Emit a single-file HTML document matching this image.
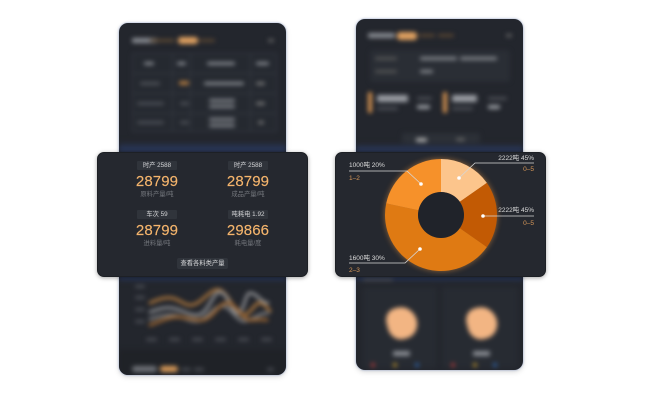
<!DOCTYPE html>
<html><head><meta charset="utf-8">
<style>
*{margin:0;padding:0;box-sizing:border-box}
html,body{width:650px;height:403px;background:#fff;overflow:hidden;position:relative;font-family:"Liberation Sans","Noto Sans CJK SC",sans-serif}
.phone{position:absolute;background:#23262d;border-radius:9px;overflow:hidden;box-shadow:0 0 2px rgba(70,100,170,.55),0 2px 6px rgba(0,0,0,.15)}
.blur{position:absolute;left:0;top:0;width:100%;height:100%;filter:blur(2.4px)}
.b{position:absolute;border-radius:1.5px}
.card{position:absolute;background:#25282f;border-radius:7px;box-shadow:0 1px 4px rgba(0,0,0,.35);border:1px solid #1d2025}
.tag{position:absolute;width:40px;height:9px;background:#30343b;border-radius:1px;color:#d5d6d8;font-size:6.3px;line-height:9px;text-align:center;white-space:nowrap}
.num{position:absolute;width:60px;text-align:center;color:#f4b46c;font-size:15px;line-height:15px;letter-spacing:.1px;-webkit-text-stroke:.15px #f4b46c}
.sub{position:absolute;width:60px;text-align:center;color:#74777d;font-size:6.3px;line-height:8px;white-space:nowrap}
</style></head><body>

<!-- LEFT PHONE -->
<div class="phone" style="left:119px;top:23px;width:167px;height:352px">
 <div class="blur">
  <div class="b" style="left:13px;top:15px;width:25px;height:5px;background:#8a8d93"></div>
  <div class="b" style="left:31px;top:16px;width:25px;height:3px;background:#5e4a33"></div>
  <div class="b" style="left:59px;top:14px;width:20px;height:7px;background:#e0a160;border-radius:3px"></div>
  <div class="b" style="left:80px;top:16px;width:16px;height:3px;background:#5a4632"></div>
  <div class="b" style="left:149px;top:16px;width:6px;height:3px;background:#666"></div>
  <!-- table -->
  <div class="b" style="left:13px;top:30px;width:145px;height:79px;border:1px solid #353942;background:#252930"></div>
  <div class="b" style="left:13px;top:50px;width:145px;height:1px;background:#353942"></div>
  <div class="b" style="left:13px;top:70px;width:145px;height:1px;background:#353942"></div>
  <div class="b" style="left:13px;top:90px;width:145px;height:1px;background:#353942"></div>
  <div class="b" style="left:53px;top:30px;width:1px;height:79px;background:#353942"></div>
  <div class="b" style="left:71px;top:30px;width:1px;height:79px;background:#353942"></div>
  <div class="b" style="left:131px;top:30px;width:1px;height:79px;background:#353942"></div>
  <div class="b" style="left:25px;top:39px;width:10px;height:3px;background:#8b8e94"></div>
  <div class="b" style="left:58px;top:39px;width:9px;height:3px;background:#8b8e94"></div>
  <div class="b" style="left:88px;top:39px;width:28px;height:3px;background:#8b8e94"></div>
  <div class="b" style="left:137px;top:39px;width:13px;height:3px;background:#8b8e94"></div>
  <div class="b" style="left:21px;top:59px;width:20px;height:3px;background:#50535a"></div>
  <div class="b" style="left:60px;top:58px;width:10px;height:4px;background:#b07a40"></div>
  <div class="b" style="left:85px;top:59px;width:40px;height:3px;background:#8a8d93"></div>
  <div class="b" style="left:137px;top:59px;width:9px;height:3px;background:#777"></div>
  <div class="b" style="left:18px;top:79px;width:27px;height:3px;background:#4d5057"></div>
  <div class="b" style="left:61px;top:79px;width:9px;height:3px;background:#4d5057"></div>
  <div class="b" style="left:90px;top:76px;width:26px;height:3px;background:#85888e"></div>
  <div class="b" style="left:90px;top:82px;width:26px;height:3px;background:#85888e"></div>
  <div class="b" style="left:137px;top:79px;width:9px;height:3px;background:#777"></div>
  <div class="b" style="left:18px;top:98px;width:27px;height:3px;background:#4d5057"></div>
  <div class="b" style="left:61px;top:98px;width:9px;height:3px;background:#4d5057"></div>
  <div class="b" style="left:90px;top:95px;width:26px;height:3px;background:#85888e"></div>
  <div class="b" style="left:90px;top:101px;width:26px;height:3px;background:#85888e"></div>
  <div class="b" style="left:139px;top:98px;width:6px;height:3px;background:#777"></div>
  <div class="b" style="left:39px;top:119px;width:13px;height:3px;background:#666"></div>
  <div class="b" style="left:109px;top:119px;width:19px;height:3px;background:#666"></div>
  <div class="b" style="left:0;top:118px;width:167px;height:11px;background:linear-gradient(#23262d,#2a3b66);border-radius:0"></div>
  <div class="b" style="left:0;top:253px;width:167px;height:6px;background:linear-gradient(#2c3f70,#23262d);border-radius:0"></div>
  <!-- chart -->
  <div class="b" style="left:16px;top:262px;width:10px;height:3px;background:#4a4d54"></div>
  <div class="b" style="left:16px;top:273px;width:10px;height:3px;background:#4a4d54"></div>
  <div class="b" style="left:16px;top:285px;width:10px;height:3px;background:#4a4d54"></div>
  <div class="b" style="left:16px;top:297px;width:10px;height:3px;background:#4a4d54"></div>
  <svg style="position:absolute;left:0;top:0" width="167" height="352">
   <g fill="none" stroke-width="3" stroke-linecap="round">
    <path d="M31,280 C40,276 46,274 53,275 C62,277 66,283 73,282 C84,280 92,264 101,267 C110,271 116,292 124,292 C132,292 136,278 142,280 C147,282 149,286 151,288" stroke="#a8743c"/>
    <path d="M31,289 C40,286 46,284 53,285 C64,287 70,293 79,292 C90,290 94,268 101,269 C110,271 112,290 119,290 C125,290 126,270 131,270 C138,270 142,280 149,280" stroke="#8a8b8e"/>
    <path d="M31,296 C40,293 46,292 53,292 C64,293 70,299 79,298 C88,296 96,282 104,283 C112,284 118,299 126,298 C134,297 140,290 149,290" stroke="#7a7b7e"/>
    <path d="M31,302 C42,298 50,294 58,294 C68,294 76,298 84,297 C94,295 100,280 108,280 C118,281 124,297 131,297 C138,297 142,296 148,297" stroke="#9c6530"/>
   </g>
  </svg>
  <div class="b" style="left:27px;top:315px;width:11px;height:3px;background:#4a4d54"></div>
  <div class="b" style="left:50px;top:315px;width:11px;height:3px;background:#4a4d54"></div>
  <div class="b" style="left:73px;top:315px;width:11px;height:3px;background:#4a4d54"></div>
  <div class="b" style="left:96px;top:315px;width:11px;height:3px;background:#4a4d54"></div>
  <div class="b" style="left:119px;top:315px;width:11px;height:3px;background:#4a4d54"></div>
  <div class="b" style="left:142px;top:315px;width:11px;height:3px;background:#4a4d54"></div>
  <div class="b" style="left:0;top:327px;width:167px;height:25px;background:#1f2227;border-radius:0"></div>
  <div class="b" style="left:13px;top:343px;width:25px;height:6px;background:#6e7177;border-radius:3px"></div>
  <div class="b" style="left:41px;top:343px;width:18px;height:6px;background:#d99a58;border-radius:3px"></div>
  <div class="b" style="left:62px;top:345px;width:10px;height:3px;background:#4a4d54"></div>
  <div class="b" style="left:75px;top:345px;width:10px;height:3px;background:#4a4d54"></div>
  <div class="b" style="left:148px;top:345px;width:7px;height:3px;background:#4a4d54"></div>
 </div>
</div>

<!-- RIGHT PHONE -->
<div class="phone" style="left:356px;top:19px;width:167px;height:351px">
 <div class="blur">
  <div class="b" style="left:12px;top:14px;width:27px;height:5px;background:#8a8d93"></div>
  <div class="b" style="left:41px;top:13px;width:20px;height:8px;background:#e0a160;border-radius:3px"></div>
  <div class="b" style="left:63px;top:15px;width:16px;height:3px;background:#5a4632"></div>
  <div class="b" style="left:82px;top:15px;width:16px;height:3px;background:#5a4632"></div>
  <div class="b" style="left:150px;top:15px;width:6px;height:3px;background:#666"></div>
  <div class="b" style="left:14px;top:31px;width:140px;height:32px;background:#2a2e35;border-radius:3px"></div>
  <div class="b" style="left:19px;top:38px;width:22px;height:3px;background:#555"></div>
  <div class="b" style="left:64px;top:38px;width:37px;height:3px;background:#8a8d93"></div>
  <div class="b" style="left:104px;top:38px;width:37px;height:3px;background:#8a8d93"></div>
  <div class="b" style="left:19px;top:51px;width:22px;height:3px;background:#555"></div>
  <div class="b" style="left:64px;top:51px;width:13px;height:3px;background:#8a8d93"></div>
  <div class="b" style="left:12px;top:73px;width:4px;height:21px;background:#d89450"></div>
  <div class="b" style="left:21px;top:76px;width:31px;height:7px;background:#9a9da3"></div>
  <div class="b" style="left:21px;top:88px;width:21px;height:3px;background:#4d5057"></div>
  <div class="b" style="left:61px;top:78px;width:15px;height:3px;background:#4d5057"></div>
  <div class="b" style="left:61px;top:86px;width:13px;height:4px;background:#9a9da3"></div>
  <div class="b" style="left:87px;top:73px;width:4px;height:21px;background:#d89450"></div>
  <div class="b" style="left:96px;top:76px;width:25px;height:7px;background:#9a9da3"></div>
  <div class="b" style="left:96px;top:88px;width:21px;height:3px;background:#4d5057"></div>
  <div class="b" style="left:132px;top:78px;width:19px;height:3px;background:#4d5057"></div>
  <div class="b" style="left:132px;top:86px;width:12px;height:4px;background:#9a9da3"></div>
  <div class="b" style="left:46px;top:114px;width:78px;height:12px;background:#2c3037;border-radius:2px"></div>
  <div class="b" style="left:60px;top:119px;width:11px;height:4px;background:#aaa"></div>
  <div class="b" style="left:100px;top:119px;width:9px;height:3px;background:#666"></div>
  <div class="b" style="left:0;top:124px;width:167px;height:9px;background:linear-gradient(#23262d,#2a3b66);border-radius:0"></div>
  <div class="b" style="left:0;top:257px;width:167px;height:6px;background:linear-gradient(#2c3f70,#23262d);border-radius:0"></div>
  <div class="b" style="left:7px;top:259px;width:30px;height:3px;background:#4a4d54"></div>
  <div class="b" style="left:7px;top:268px;width:74px;height:81px;background:#272b32;border-radius:3px"></div>
  <div class="b" style="left:86px;top:268px;width:76px;height:81px;background:#272b32;border-radius:3px"></div>
  <div class="b" style="left:31px;top:288px;width:30px;height:32px;background:#f2b583;border-radius:40% 55% 50% 45%;transform:rotate(-15deg)"></div>
  <div class="b" style="left:111px;top:288px;width:30px;height:32px;background:#f2b583;border-radius:40% 55% 50% 45%;transform:rotate(-15deg)"></div>
  <div class="b" style="left:37px;top:332px;width:17px;height:5px;background:#8a8d93"></div>
  <div class="b" style="left:117px;top:332px;width:17px;height:5px;background:#8a8d93"></div>
  <div class="b" style="left:15px;top:344px;width:4px;height:4px;background:#b03a3a;border-radius:2px"></div>
  <div class="b" style="left:37px;top:344px;width:4px;height:4px;background:#b8902a;border-radius:2px"></div>
  <div class="b" style="left:59px;top:344px;width:4px;height:4px;background:#2f62a8;border-radius:2px"></div>
  <div class="b" style="left:95px;top:344px;width:4px;height:4px;background:#b03a3a;border-radius:2px"></div>
  <div class="b" style="left:117px;top:344px;width:4px;height:4px;background:#b8902a;border-radius:2px"></div>
  <div class="b" style="left:137px;top:344px;width:4px;height:4px;background:#2f62a8;border-radius:2px"></div>
 </div>
</div>

<!-- LEFT CARD -->
<div class="card" style="left:97px;top:152px;width:211px;height:125px"></div>
<div class="tag" style="left:137px;top:161px">时产 2588</div>
<div class="tag" style="left:228px;top:161px">时产 2588</div>
<div class="num" style="left:127px;top:174px">28799</div>
<div class="num" style="left:218px;top:174px">28799</div>
<div class="sub" style="left:127px;top:191px">原料产量/吨</div>
<div class="sub" style="left:218px;top:191px">成品产量/吨</div>
<div class="tag" style="left:137px;top:210px">车次 59</div>
<div class="tag" style="left:228px;top:210px">吨耗电 1.92</div>
<div class="num" style="left:127px;top:223px">28799</div>
<div class="num" style="left:218px;top:223px">29866</div>
<div class="sub" style="left:127px;top:240px">进料量/吨</div>
<div class="sub" style="left:218px;top:240px">耗电量/度</div>
<div class="tag" style="left:177px;top:258px;width:51px;height:11px;line-height:11px;border-radius:2px">查看各料类产量</div>

<!-- RIGHT CARD -->
<div class="card" style="left:335px;top:152px;width:211px;height:125px"></div>
<svg style="position:absolute;left:0;top:0" width="650" height="403">
 <defs><filter id="g" x="-30%" y="-30%" width="160%" height="160%"><feGaussianBlur stdDeviation="3"/></filter></defs>
 <circle cx="441" cy="215" r="56" fill="#f39a3c" opacity=".55" filter="url(#g)"/>
 <path d="M441,159 A56,56 0 0 1 486.87,182.88 L459.84,201.81 A23,23 0 0 0 441,192 Z" fill="#fcc58c"/>
 <path d="M486.87,182.88 A56,56 0 0 1 486.87,247.12 L459.84,228.19 A23,23 0 0 0 459.84,201.81 Z" fill="#c25a04"/>
 <path d="M486.87,247.12 A56,56 0 0 1 386.22,203.36 L418.5,210.22 A23,23 0 0 0 459.84,228.19 Z" fill="#df7a13"/>
 <path d="M386.22,203.36 A56,56 0 0 1 441,159 L441,192 A23,23 0 0 0 418.5,210.22 Z" fill="#f6912a"/>
 <circle cx="441" cy="215" r="23" fill="#20232a"/>
 <g fill="none" stroke="#d6d6d6" stroke-width=".8">
  <polyline points="459,178 475,163 534,163"/>
  <polyline points="483,216 534,216"/>
  <polyline points="421,184 407,171 349,171"/>
  <polyline points="420,249 405,263 349,263"/>
 </g>
 <g fill="#fff">
  <circle cx="459" cy="178" r="1.8"/><circle cx="483" cy="216" r="1.8"/>
  <circle cx="421" cy="184" r="1.8"/><circle cx="420" cy="249" r="1.8"/>
 </g>
 <g font-family="Liberation Sans, Noto Sans CJK SC, sans-serif" font-size="6.5">
  <text x="534" y="160" text-anchor="end" fill="#dcdcdc">2222吨 45%</text>
  <text x="534" y="171" text-anchor="end" fill="#d9995a">0–5</text>
  <text x="534" y="212" text-anchor="end" fill="#dcdcdc">2222吨 45%</text>
  <text x="534" y="225" text-anchor="end" fill="#d9995a">0–5</text>
  <text x="349" y="167" fill="#dcdcdc">1000吨 20%</text>
  <text x="349" y="180" fill="#d9995a">1–2</text>
  <text x="349" y="260" fill="#dcdcdc">1600吨 30%</text>
  <text x="349" y="272" fill="#d9995a">2–3</text>
 </g>
</svg>
</body></html>
